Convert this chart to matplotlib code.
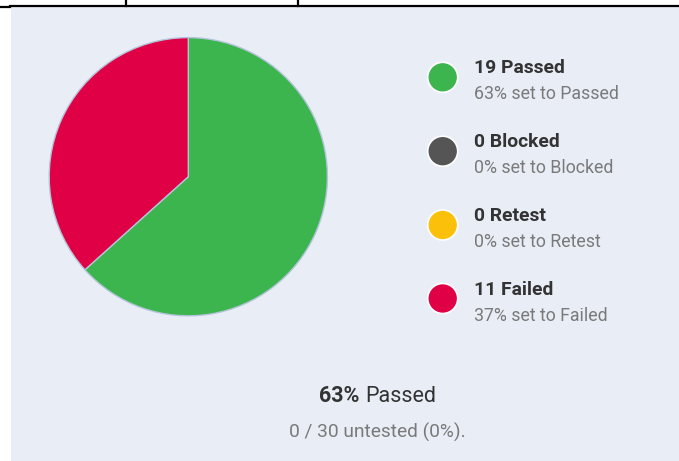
import numpy as np
import matplotlib.pyplot as plt
from matplotlib.patches import Circle, Rectangle

plt.rcParams['font.family'] = ['Roboto', 'DejaVu Sans']

# test run results
statuses = ['Passed', 'Blocked', 'Retest', 'Failed']
counts = [19, 0, 0, 11]
colors = ['#3db54f', '#555555', '#fbc10a', '#e00045']
untested = 0

W, H = 679, 461
fig = plt.figure(figsize=(W / 100, H / 100), dpi=100)

# background axes in pixel coordinates
bg = fig.add_axes([0, 0, 1, 1])
bg.set_xlim(0, W)
bg.set_ylim(H, 0)
bg.axis('off')
bg.add_patch(Rectangle((11, 7), W - 11, H - 7, facecolor='#e9edf6', edgecolor='none'))
# table border bits on top
bg.plot([10, W], [6, 6], color='black', lw=1.6)
bg.plot([0, 10], [7.5, 7.5], color='black', lw=1.6)
for xv in [126, 298]:
    bg.plot([xv, xv], [0, 6], color='black', lw=1.6)

total = sum(counts) + untested

# pie
cx, cy, r = 188.3, 176.7, 140.5
pax = fig.add_axes([(cx - r) / W, (H - cy - r) / H, 2 * r / W, 2 * r / H])
vals = [c for c in counts if c > 0]
cols = [colors[i] for i, c in enumerate(counts) if c > 0]
pax.pie(vals, colors=cols, startangle=90, counterclock=False, radius=1,
        wedgeprops=dict(edgecolor='#b4c4da', linewidth=1.0))
pax.set_xlim(-1.01, 1.01)
pax.set_ylim(-1.01, 1.01)
pax.set_aspect('equal')
pax.axis('off')

# legend
ys = [77.3, 151.2, 225, 298.5]
for i, status in enumerate(statuses):
    y = ys[i]
    bg.add_patch(Circle((442.7, y), 15, facecolor=colors[i], edgecolor='white', lw=1.2))
    pct = round(100 * counts[i] / total)
    bg.text(474, y - 4, '%d %s' % (counts[i], status), fontsize=13.9,
            fontweight='bold', color='#333333', va='baseline', ha='left')
    bg.text(474, y + 22, '%d%% set to %s' % (pct, status), fontsize=12.8,
            color='#7a7a7a', va='baseline', ha='left')

# summary
pct_passed = round(100 * counts[0] / total)
bg.text(359, 402.3, '%d%%' % pct_passed, fontsize=15.5, fontweight='bold',
        color='#333333', ha='right', va='baseline')
bg.text(365, 402.3, 'Passed', fontsize=15.5, color='#333333',
        ha='left', va='baseline')
bg.text(377, 438, '%d / %d untested (%d%%).' % (untested, total, round(100 * untested / total)),
        fontsize=13.8, color='#7a7a7a', ha='center', va='baseline')

fig.savefig('out.png', dpi=100)
